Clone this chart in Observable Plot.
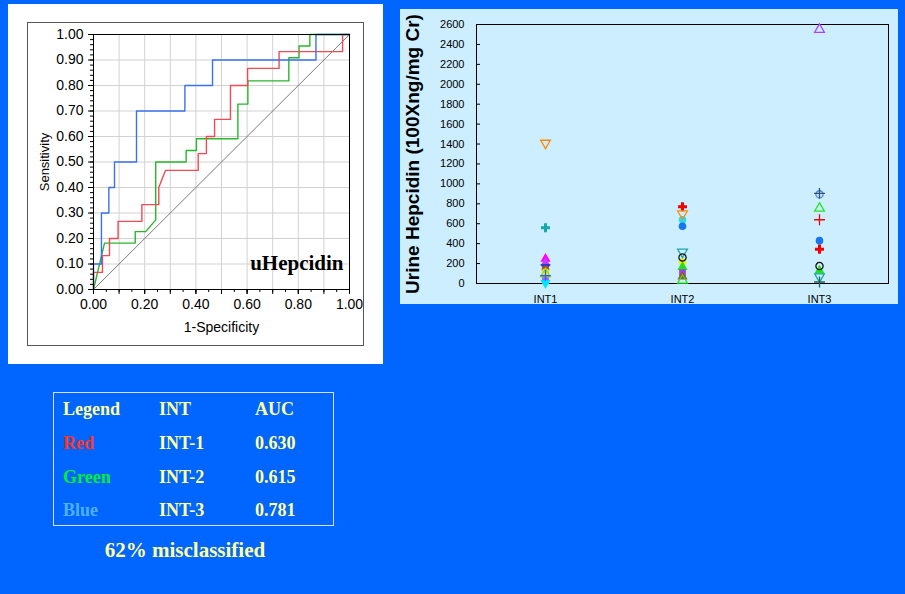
<!DOCTYPE html>
<html><head><meta charset="utf-8">
<script src="https://cdn.jsdelivr.net/npm/d3@7"></script>
<script src="https://cdn.jsdelivr.net/npm/@observablehq/plot@0.6"></script>
<style>
html,body{margin:0;padding:0;}
body{width:905px;height:594px;background:#0066ff;position:relative;overflow:hidden;font-family:"Liberation Sans",Arial,sans-serif;}
.abs{position:absolute;}
#rocPanel{left:8px;top:4px;width:375px;height:360px;background:#fff;}
#rocFrame{left:19px;top:18px;width:337px;height:324px;border:1px solid #555;box-sizing:border-box;}
#rocChart{left:0;top:0;}
#scatterPanel{left:400px;top:9px;width:498px;height:295px;background:#cdeeff;}
#legendBox{left:53px;top:392px;width:281px;height:134px;border:1.5px solid #d8e0f0;box-sizing:border-box;}
.cell{position:absolute;font-family:"Liberation Serif","Times New Roman",serif;font-weight:bold;font-size:18px;line-height:18px;color:#ffff99;white-space:nowrap;}
#caption{left:0;width:370px;top:540px;text-align:center;font-family:"Liberation Serif","Times New Roman",serif;font-weight:bold;font-size:21px;line-height:21px;color:#ffff99;}
</style>
</head><body>
<div id="rocPanel" class="abs"><div id="rocFrame" class="abs"></div><div id="rocChart" class="abs"></div></div>
<div id="scatterPanel" class="abs"></div>
<div id="legendBox" class="abs"></div>
<div id="legendCells"></div>
<div id="caption" class="abs"></div>
<script>
// ---------- ROC data (1-Specificity, Sensitivity) ----------
const rocInt1Fpr = [0,0,0.035,0.035,0.0625,0.0625,0.096,0.096,0.189,0.189,0.255,0.255,0.281,0.409,0.409,0.441,0.441,0.473,0.473,0.535,0.535,0.602,0.602,0.725,0.725,0.973,0.973,1];
const rocInt1Tpr = [0,0.067,0.067,0.133,0.133,0.2,0.2,0.267,0.267,0.333,0.333,0.4,0.467,0.467,0.533,0.533,0.6,0.6,0.667,0.667,0.8,0.8,0.867,0.867,0.933,0.933,1,1];
const rocInt2Fpr = [0,0.043,0.163,0.163,0.204,0.243,0.243,0.362,0.362,0.402,0.402,0.564,0.564,0.603,0.603,0.763,0.763,0.803,0.803,0.845,0.845,1];
const rocInt2Tpr = [0,0.182,0.182,0.227,0.227,0.273,0.5,0.5,0.545,0.545,0.591,0.591,0.727,0.727,0.818,0.818,0.909,0.909,0.955,0.955,1,1];
const rocInt3Fpr = [0,0,0.031,0.031,0.06,0.06,0.082,0.082,0.168,0.168,0.357,0.357,0.465,0.465,0.869,0.869,1];
const rocInt3Tpr = [0,0.1,0.1,0.3,0.3,0.4,0.4,0.5,0.5,0.7,0.7,0.8,0.8,0.9,0.9,1,1];
const chanceLine = [0, 1];

// ---------- Scatter data (Urine Hepcidin) ----------
const scatterGroups = ["INT1", "INT2", "INT3"];
const int1Hepcidin = [1410, 560, 248, 205, 165, 140, 112, 95, 80, 42, 28, 5];
const int1Marker = ["orangeTriDownOpen","tealCross","magentaTri","violetTri","navyTriDown","brownCircle","yellowCircle","limeTriOpen","bluePlus","purpleSquare","violetSquare","cyanTriDown"];
const int2Hepcidin = [770, 700, 640, 575, 316, 262, 215, 165, 108, 70, 32];
const int2Marker = ["redCross","orangeTriDownOpen","cyanCircle","blueCircle","tealTriDownOpen","blackCircleOpen","yellowCircle","greenTri","purpleSquare","brownTri","greenTriOpen"];
const int3Hepcidin = [2550, 895, 905, 755, 640, 430, 345, 175, 130, 68, 15];
const int3Marker = ["purpleTriOpen","steelCircleOpen","slatePlus","greenTriOpen","redPlus","blueCircle","redCross","blackCircleOpen","greenTri","tealTriDownOpen","darkTealPlus"];
const yAxisLabel = "Urine Hepcidin (100Xng/mg Cr)";

// ---------- Legend table ----------
const legendHeader = ["Legend", "INT", "AUC"];
const legendNames = ["Red", "Green", "Blue"];
const legendInts = ["INT-1", "INT-2", "INT-3"];
const legendAuc = ["0.630", "0.615", "0.781"];
const captionText = "62% misclassified";

// ---------- styles ----------
const triDown = {draw(context, size) {
  const y = -Math.sqrt(size / (Math.sqrt(3) * 3));
  context.moveTo(0, -y * 2);
  context.lineTo(-Math.sqrt(3) * y, y);
  context.lineTo(Math.sqrt(3) * y, y);
  context.closePath();
}};
const markerStyles = {
  orangeTriDownOpen: {symbol: triDown, color: "#ff8a00", filled: false},
  tealCross: {symbol: "cross", color: "#19a7a7", filled: true},
  magentaTri: {symbol: "triangle", color: "#ff00ff", filled: true},
  violetTri: {symbol: "triangle", color: "#c040ff", filled: true},
  navyTriDown: {symbol: triDown, color: "#2a3cc8", filled: true},
  brownCircle: {symbol: "circle", color: "#b4531a", filled: true},
  yellowCircle: {symbol: "circle", color: "#f2f200", filled: true},
  limeTriOpen: {symbol: "triangle", color: "#7ee040", filled: false},
  bluePlus: {symbol: "plus", color: "#2f5cff", filled: false},
  purpleSquare: {symbol: "square", color: "#9a40f0", filled: true},
  violetSquare: {symbol: "square", color: "#b060ff", filled: true},
  cyanTriDown: {symbol: triDown, color: "#00e5ff", filled: true},
  redCross: {symbol: "cross", color: "#f00000", filled: true},
  cyanCircle: {symbol: "circle", color: "#22dcff", filled: true},
  blueCircle: {symbol: "circle", color: "#1877ee", filled: true},
  tealTriDownOpen: {symbol: triDown, color: "#19a7a7", filled: false},
  blackCircleOpen: {symbol: "circle", color: "#111111", filled: false},
  greenTri: {symbol: "triangle", color: "#22dd22", filled: true},
  brownTri: {symbol: "triangle", color: "#a0522d", filled: true},
  greenTriOpen: {symbol: "triangle", color: "#22e622", filled: false},
  purpleTriOpen: {symbol: "triangle", color: "#b040ff", filled: false},
  steelCircleOpen: {symbol: "circle", color: "#4a8be0", filled: false},
  slatePlus: {symbol: "plus", color: "#335070", filled: false},
  redPlus: {symbol: "plus", color: "#f00000", filled: false},
  darkTealPlus: {symbol: "plus", color: "#1f5f5f", filled: false}
};

// ---------- ROC chart ----------
const toRows = (xs, ys) => xs.map((x, i) => ({fpr: x, tpr: ys[i]}));
const roc = Plot.plot({
  width: 375, height: 360,
  marginLeft: 85, marginRight: 34, marginTop: 30, marginBottom: 75,
  x: {domain: [0, 1], label: null},
  y: {domain: [0, 1], label: null},
  style: {background: "transparent", fontFamily: "'Liberation Sans', Arial, sans-serif", fontSize: "14px", color: "#000"},
  marks: [
    Plot.gridX({ticks: d3.ticks(0, 1, 10), stroke: "#d2d2d2", strokeOpacity: 1}),
    Plot.gridY({ticks: d3.ticks(0, 1, 10), stroke: "#d2d2d2", strokeOpacity: 1}),
    Plot.line(chanceLine, {x: d => d, y: d => d, stroke: "#7a7a7a", strokeWidth: 1}),
    Plot.line(toRows(rocInt2Fpr, rocInt2Tpr), {x: "fpr", y: "tpr", stroke: "#2bb52b", strokeWidth: 1.4}),
    Plot.line(toRows(rocInt1Fpr, rocInt1Tpr), {x: "fpr", y: "tpr", stroke: "#f04a55", strokeWidth: 1.4}),
    Plot.line(toRows(rocInt3Fpr, rocInt3Tpr), {x: "fpr", y: "tpr", stroke: "#3a72ee", strokeWidth: 1.4}),
    Plot.frame({stroke: "#000"}),
    Plot.axisY({ticks: d3.ticks(0, 1, 10), tickSize: 5, tickPadding: 5, tickFormat: d3.format(".2f")}),
    Plot.axisY({ticks: d3.ticks(0, 1, 50), tickSize: 3, tickFormat: () => ""}),
    Plot.axisX({ticks: d3.ticks(0, 1, 5), tickSize: 5, tickPadding: 5, tickFormat: d3.format(".2f")}),
    Plot.axisX({ticks: d3.ticks(0, 1, 10), tickSize: 5, tickFormat: () => ""}),
    Plot.axisX({ticks: d3.ticks(0, 1, 20), tickSize: 3, tickFormat: () => ""}),
    Plot.text(["Sensitivity"], {frameAnchor: "left", textAnchor: "middle", lineAnchor: "middle", rotate: -90, dx: -49, fontSize: 13}),
    Plot.text(["1-Specificity"], {frameAnchor: "bottom", textAnchor: "middle", lineAnchor: "middle", dy: 38.5, fontSize: 14}),
    Plot.text(["uHepcidin"], {frameAnchor: "bottom-right", textAnchor: "end", lineAnchor: "middle", dx: -6, dy: -26, fontSize: 21, fontWeight: "bold", fontFamily: "'Liberation Serif', 'Times New Roman', serif"})
  ]
});
document.getElementById("rocChart").appendChild(roc);

// ---------- Scatter chart ----------
const points = [];
[[scatterGroups[0], int1Hepcidin, int1Marker], [scatterGroups[1], int2Hepcidin, int2Marker], [scatterGroups[2], int3Hepcidin, int3Marker]]
  .forEach(([g, vals, marks]) => vals.forEach((v, i) => points.push({group: g, value: v, ...markerStyles[marks[i]]})));
const yTicks = d3.range(0, 2601, 200);
const scatter = Plot.plot({
  width: 498, height: 295,
  marginLeft: 76, marginRight: 10, marginTop: 15, marginBottom: 21,
  x: {type: "point", domain: scatterGroups, padding: 0.5, label: null},
  y: {domain: [0, 2600], label: null},
  style: {background: "transparent", fontFamily: "'Liberation Sans', Arial, sans-serif", fontSize: "11px", color: "#000"},
  marks: [
    Plot.frame({stroke: "#000"}),
    Plot.axisY({ticks: yTicks, tickSize: 0, tickPadding: 12, tickFormat: d3.format("d")}),
    Plot.axisY({ticks: yTicks, tickSize: 4, dx: 4, tickFormat: () => ""}),
    Plot.axisX({tickSize: 0, tickPadding: 12}),
    Plot.dot(points.filter(d => d.filled), {x: "group", y: "value", symbol: "symbol", fill: "color", r: 3.8}),
    Plot.dot(points.filter(d => !d.filled), {x: "group", y: "value", symbol: "symbol", stroke: "color", fill: "none", r: 3.6, strokeWidth: 1.3}),
    Plot.text([yAxisLabel], {frameAnchor: "left", textAnchor: "middle", lineAnchor: "middle", rotate: -90, dx: -64, fontSize: 19, fontWeight: "bold"})
  ]
});
document.getElementById("scatterPanel").appendChild(scatter);

// ---------- Legend table ----------
const colX = [63, 159, 255];
const rowTop = [400, 434, 468, 501];
const nameColors = ["#ff3322", "#00ee33", "#4fb0ff"];
const cellsDiv = document.getElementById("legendCells");
function addCell(text, x, y, color) {
  const el = document.createElement("div");
  el.className = "cell";
  el.style.left = x + "px";
  el.style.top = y + "px";
  if (color) el.style.color = color;
  el.textContent = text;
  cellsDiv.appendChild(el);
}
legendHeader.forEach((t, j) => addCell(t, colX[j], rowTop[0]));
legendNames.forEach((t, i) => {
  addCell(t, colX[0], rowTop[i + 1], nameColors[i]);
  addCell(legendInts[i], colX[1], rowTop[i + 1]);
  addCell(legendAuc[i], colX[2], rowTop[i + 1]);
});
document.getElementById("caption").textContent = captionText;
</script>
</body></html>
